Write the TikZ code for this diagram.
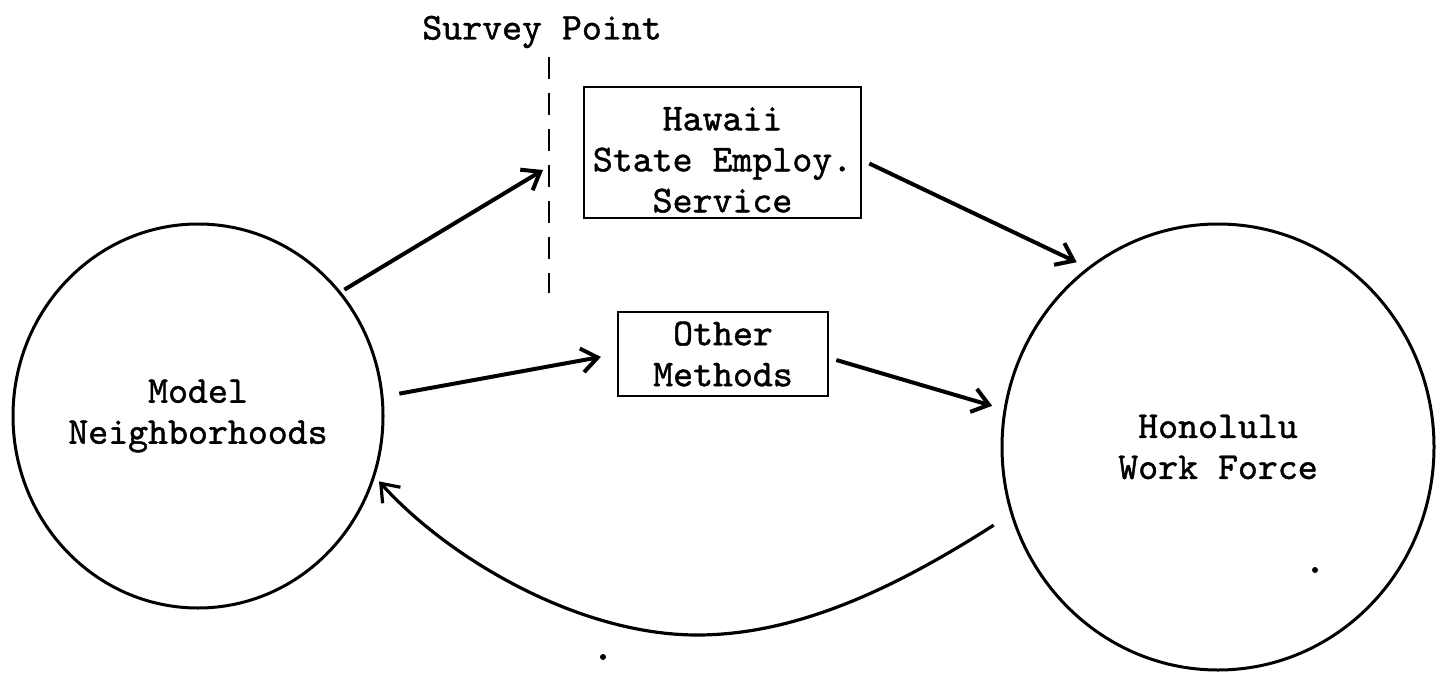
\documentclass[tikz,border=0pt]{standalone}
\usepackage{fontspec}
\newfontfamily\typewr{lmmono10-regular.otf}[FakeBold=1.2]
\usetikzlibrary{arrows.meta,shapes.geometric}
\begin{document}
\begin{tikzpicture}[x=0.5pt,y=-0.5pt,
  lbl/.style={font=\fontsize{19}{20.5}\selectfont\typewr, align=center},
  boxnode/.style={lbl, draw, line width=1.3pt, inner sep=0pt},
  circnode/.style={lbl, draw, ellipse, line width=1.5pt, inner sep=0pt},
  arr/.style={line width=2pt, -{Straight Barb[length=8pt,width=12pt]}},
  arrcurve/.style={line width=1.6pt, -{Straight Barb[length=8pt,width=12pt]}},
  surveyline/.style={line width=1.4pt, dash pattern=on 11pt off 7pt},
]
\useasboundingbox (0,0) rectangle (1438,674);

% nodes
\node[lbl] (SP) at (542,32) {Survey Point};
\node[circnode, minimum width=185pt, minimum height=192pt] (L) at (198,416) {Model\\Neighborhoods};
\node[circnode, minimum width=216pt, minimum height=223pt] (R) at (1218,447) {Honolulu\\Work Force};
\node[boxnode, minimum width=138.5pt, minimum height=65.5pt] (H) at (722.5,152.5) {\rule{0pt}{19pt}Hawaii\\State Employ.\\Service};
\node[boxnode, minimum width=105pt, minimum height=42pt] (O) at (723,354) {Other\\Methods};

% survey point line
\coordinate (d1) at (549,57);
\coordinate (d2) at (549,293);
\coordinate (t1) at (543,170);
\draw[surveyline] (d1) -- (d2);

% connectors
\draw[arr, shorten <=2pt] (L.41) -- (t1);
\draw[arr, shorten >=6pt] ([shift={(7,11)}]H.east) -- (R.126);
\draw[arr, shorten <=8pt, shorten >=8pt] (L.6) -- (O.west);
\draw[arr, shorten >=6pt] ([shift={(7,6)}]O.east) -- (R.170);
\draw[arrcurve, shorten <=10pt, shorten >=3pt] (R.198) .. controls (900,585) and (800,635) .. (697,635) .. controls (580,635) and (450,560) .. (L.-19);

% specks printed on the page
\fill (603,657) circle (3);
\fill (1315,570) circle (3);
\end{tikzpicture}
\end{document}
